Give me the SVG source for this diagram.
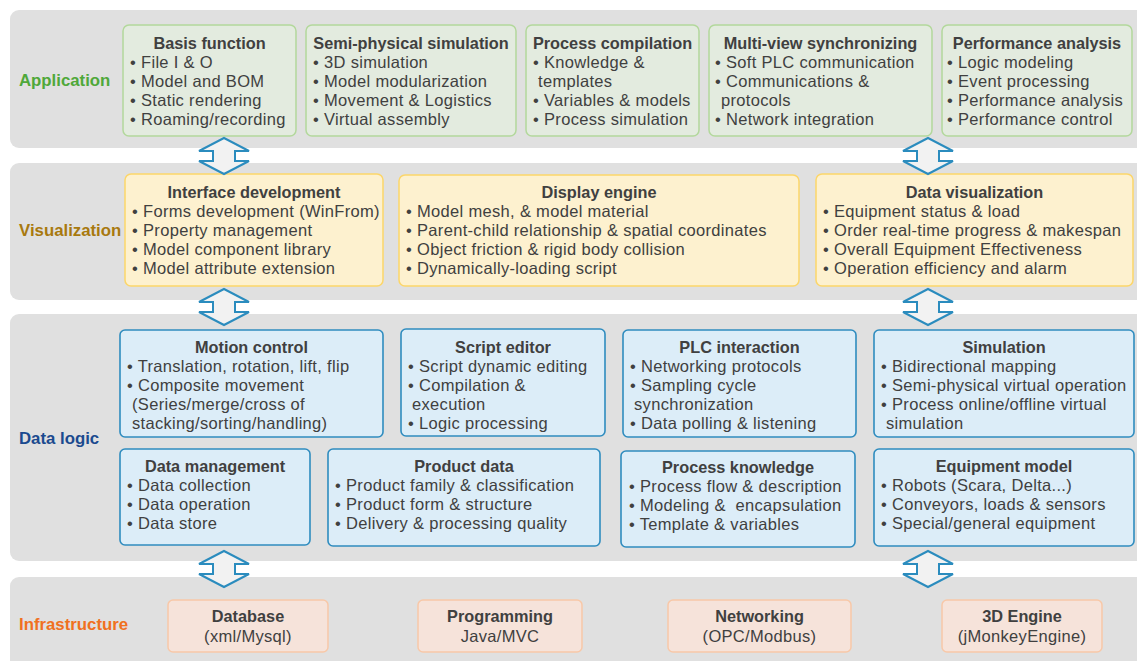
<svg xmlns="http://www.w3.org/2000/svg" width="1137" height="661" viewBox="0 0 1137 661">
  <style>
    text { font-family: "Liberation Sans", Arial, sans-serif; fill: #404040; }
    .band { fill: #e0e0e0; }
    .layer { font-size: 16.8px; font-weight: 700; }
    .title { font-size: 16.3px; font-weight: 700; text-anchor: middle; }
    .item { font-size: 16.5px; letter-spacing: 0.32px; white-space: pre; }
    .sub { font-size: 16.5px; letter-spacing: 0.32px; text-anchor: middle; }
    .app { fill: #e3ebdf; stroke: #b3d89c; stroke-width: 1.5; }
    .vis { fill: #fdf1cf; stroke: #fcd66a; stroke-width: 1.5; }
    .dat { fill: #dcedf8; stroke: #2f8cbf; stroke-width: 1.6; }
    .inf { fill: #f6e3da; stroke: #f8c8a8; stroke-width: 1.5; }
    .arrow { fill: #f2f2f2; stroke: #2b8cbe; stroke-width: 2; stroke-linejoin: miter; }
  </style>
  <defs>
    <!-- hollow double-headed block arrow, centred on x=0, spanning y 0..36 -->
    <path id="dblArrow" d="M0,0 L25,13 L11,13 L11,23 L25,23 L0,36 L-25,23 L-11,23 L-11,13 L-25,13 Z"/>
  </defs>

  <rect width="1137" height="661" fill="#ffffff"/>

  <!-- layer bands -->
  <g id="bands">
    <rect class="band" x="10" y="10" width="1140" height="138" rx="9"/>
    <rect class="band" x="10" y="163" width="1140" height="137" rx="9"/>
    <rect class="band" x="10" y="314" width="1140" height="247" rx="9"/>
    <rect class="band" x="10" y="577" width="1140" height="100" rx="9"/>
  </g>

  <!-- layer labels -->
  <g id="labels">
    <text class="layer" x="19" y="86" style="fill:#4fa83a">Application</text>
    <text class="layer" x="19" y="236" style="fill:#a8790f">Visualization</text>
    <text class="layer" x="19" y="444" style="fill:#1b4a8f">Data logic</text>
    <text class="layer" x="19" y="630" style="fill:#f07020">Infrastructure</text>
  </g>

  <!-- application layer -->
  <g id="basis-function">
    <rect class="app" x="123" y="25" width="173" height="111" rx="6"/>
    <text class="title" x="209.5" y="49">Basis function</text>
    <text class="item" x="130" y="68">• File I &amp; O</text>
    <text class="item" x="130" y="87">• Model and BOM</text>
    <text class="item" x="130" y="106">• Static rendering</text>
    <text class="item" x="130" y="125">• Roaming/recording</text>
  </g>
  <g id="semi-physical-simulation">
    <rect class="app" x="306" y="25" width="210" height="111" rx="6"/>
    <text class="title" x="411" y="49">Semi-physical simulation</text>
    <text class="item" x="313" y="68">• 3D simulation</text>
    <text class="item" x="313" y="87">• Model modularization</text>
    <text class="item" x="313" y="106">• Movement &amp; Logistics</text>
    <text class="item" x="313" y="125">• Virtual assembly</text>
  </g>
  <g id="process-compilation">
    <rect class="app" x="526" y="25" width="173" height="111" rx="6"/>
    <text class="title" x="612.5" y="49">Process compilation</text>
    <text class="item" x="533" y="68">• Knowledge &amp;</text>
    <text class="item" x="538" y="87">templates</text>
    <text class="item" x="533" y="106">• Variables &amp; models</text>
    <text class="item" x="533" y="125">• Process simulation</text>
  </g>
  <g id="multi-view-synchronizing">
    <rect class="app" x="709" y="25" width="223" height="111" rx="6"/>
    <text class="title" x="820.5" y="49">Multi-view synchronizing</text>
    <text class="item" x="715" y="68">• Soft PLC communication</text>
    <text class="item" x="715" y="87">• Communications &amp;</text>
    <text class="item" x="721" y="106">protocols</text>
    <text class="item" x="715" y="125">• Network integration</text>
  </g>
  <g id="performance-analysis">
    <rect class="app" x="942" y="25" width="190" height="111" rx="6"/>
    <text class="title" x="1037" y="49">Performance analysis</text>
    <text class="item" x="947" y="68">• Logic modeling</text>
    <text class="item" x="947" y="87">• Event processing</text>
    <text class="item" x="947" y="106">• Performance analysis</text>
    <text class="item" x="947" y="125">• Performance control</text>
  </g>

  <!-- visualization layer -->
  <g id="interface-development">
    <rect class="vis" x="125" y="174" width="258" height="112" rx="6"/>
    <text class="title" x="254" y="198">Interface development</text>
    <text class="item" x="132" y="217">• Forms development (WinFrom)</text>
    <text class="item" x="132" y="236">• Property management</text>
    <text class="item" x="132" y="255">• Model component library</text>
    <text class="item" x="132" y="274">• Model attribute extension</text>
  </g>
  <g id="display-engine">
    <rect class="vis" x="399" y="175" width="400" height="111" rx="6"/>
    <text class="title" x="599" y="198">Display engine</text>
    <text class="item" x="406" y="217">• Model mesh, &amp; model material</text>
    <text class="item" x="406" y="236">• Parent-child relationship &amp; spatial coordinates</text>
    <text class="item" x="406" y="255">• Object friction &amp; rigid body collision</text>
    <text class="item" x="406" y="274">• Dynamically-loading script</text>
  </g>
  <g id="data-visualization">
    <rect class="vis" x="816" y="174" width="317" height="112" rx="6"/>
    <text class="title" x="974.5" y="198">Data visualization</text>
    <text class="item" x="823" y="217">• Equipment status &amp; load</text>
    <text class="item" x="823" y="236">• Order real-time progress &amp; makespan</text>
    <text class="item" x="823" y="255">• Overall Equipment Effectiveness</text>
    <text class="item" x="823" y="274">• Operation efficiency and alarm</text>
  </g>

  <!-- data logic layer -->
  <g id="motion-control">
    <rect class="dat" x="120" y="330" width="263" height="107" rx="5"/>
    <text class="title" x="251.5" y="353">Motion control</text>
    <text class="item" x="127" y="372">• Translation, rotation, lift, flip</text>
    <text class="item" x="127" y="391">• Composite movement</text>
    <text class="item" x="132" y="410">(Series/merge/cross of</text>
    <text class="item" x="132" y="429">stacking/sorting/handling)</text>
  </g>
  <g id="script-editor">
    <rect class="dat" x="401" y="329" width="204" height="107" rx="5"/>
    <text class="title" x="503" y="353">Script editor</text>
    <text class="item" x="408" y="372">• Script dynamic editing</text>
    <text class="item" x="408" y="391">• Compilation &amp;</text>
    <text class="item" x="412" y="410">execution</text>
    <text class="item" x="408" y="429">• Logic processing</text>
  </g>
  <g id="plc-interaction">
    <rect class="dat" x="623" y="330" width="233" height="107" rx="5"/>
    <text class="title" x="739.5" y="353">PLC interaction</text>
    <text class="item" x="630" y="372">• Networking protocols</text>
    <text class="item" x="630" y="391">• Sampling cycle</text>
    <text class="item" x="634" y="410">synchronization</text>
    <text class="item" x="630" y="429">• Data polling &amp; listening</text>
  </g>
  <g id="simulation">
    <rect class="dat" x="874" y="330" width="260" height="107" rx="5"/>
    <text class="title" x="1004" y="353">Simulation</text>
    <text class="item" x="881" y="372">• Bidirectional mapping</text>
    <text class="item" x="881" y="391">• Semi-physical virtual operation</text>
    <text class="item" x="881" y="410">• Process online/offline virtual</text>
    <text class="item" x="886" y="429">simulation</text>
  </g>
  <g id="data-management">
    <rect class="dat" x="120" y="449" width="190" height="96" rx="5"/>
    <text class="title" x="215" y="472">Data management</text>
    <text class="item" x="127" y="491">• Data collection</text>
    <text class="item" x="127" y="510">• Data operation</text>
    <text class="item" x="127" y="529">• Data store</text>
  </g>
  <g id="product-data">
    <rect class="dat" x="328" y="449" width="272" height="97" rx="5"/>
    <text class="title" x="464" y="472">Product data</text>
    <text class="item" x="335" y="491">• Product family &amp; classification</text>
    <text class="item" x="335" y="510">• Product form &amp; structure</text>
    <text class="item" x="335" y="529">• Delivery &amp; processing quality</text>
  </g>
  <g id="process-knowledge">
    <rect class="dat" x="621" y="451" width="234" height="96" rx="5"/>
    <text class="title" x="738" y="473">Process knowledge</text>
    <text class="item" x="629" y="492">• Process flow &amp; description</text>
    <text class="item" x="629" y="511">• Modeling &amp;  encapsulation</text>
    <text class="item" x="629" y="530">• Template &amp; variables</text>
  </g>
  <g id="equipment-model">
    <rect class="dat" x="874" y="449" width="260" height="97" rx="5"/>
    <text class="title" x="1004" y="472">Equipment model</text>
    <text class="item" x="881" y="491">• Robots (Scara, Delta...)</text>
    <text class="item" x="881" y="510">• Conveyors, loads &amp; sensors</text>
    <text class="item" x="881" y="529">• Special/general equipment</text>
  </g>

  <!-- infrastructure layer -->
  <g id="database">
    <rect class="inf" x="168" y="600" width="160" height="52" rx="5"/>
    <text class="title" x="248" y="622">Database</text>
    <text class="sub" x="248" y="642">(xml/Mysql)</text>
  </g>
  <g id="programming">
    <rect class="inf" x="418" y="600" width="164" height="52" rx="5"/>
    <text class="title" x="500" y="622">Programming</text>
    <text class="sub" x="500" y="642">Java/MVC</text>
  </g>
  <g id="networking">
    <rect class="inf" x="668" y="600" width="183" height="52" rx="5"/>
    <text class="title" x="759.5" y="622">Networking</text>
    <text class="sub" x="759.5" y="642">(OPC/Modbus)</text>
  </g>
  <g id="engine-3d">
    <rect class="inf" x="942" y="600" width="160" height="52" rx="5"/>
    <text class="title" x="1022" y="622">3D Engine</text>
    <text class="sub" x="1022" y="642">(jMonkeyEngine)</text>
  </g>

  <!-- connectors between layers -->
  <g id="connectors">
    <use href="#dblArrow" class="arrow" transform="translate(224,138)"/>
    <use href="#dblArrow" class="arrow" transform="translate(928,138)"/>
    <use href="#dblArrow" class="arrow" transform="translate(224,289)"/>
    <use href="#dblArrow" class="arrow" transform="translate(928,289)"/>
    <use href="#dblArrow" class="arrow" transform="translate(224,551)"/>
    <use href="#dblArrow" class="arrow" transform="translate(928,551)"/>
  </g>
</svg>
